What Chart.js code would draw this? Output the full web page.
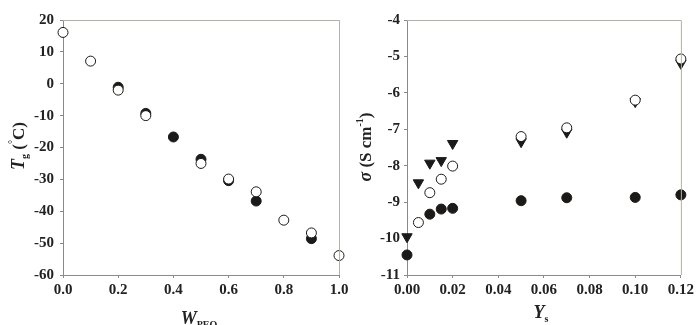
<!DOCTYPE html>
<html>
<head>
<meta charset="utf-8">
<script src="https://cdn.jsdelivr.net/npm/chart.js@4.4.1/dist/chart.umd.min.js"></script>
<style>
    body { margin: 0; background: #fff; }
    #wrap { position: relative; width: 697px; height: 325px; }
    canvas { position: absolute; left: 0; top: 0; }
</style>
</head>
<body>
<div id="wrap">
    <canvas id="graficoTg" width="697" height="325"></canvas>
    <canvas id="graficoSigma" width="697" height="325"></canvas>
</div>
<script>
// Tg contra fração de PEO
const wPeoAbertos = [0.0, 0.1, 0.2, 0.3, 0.5, 0.6, 0.7, 0.8, 0.9, 1.0];
const tgAbertos = [16.1, 7.1, -2.0, -10.0, -25.0, -29.9, -33.9, -42.8, -46.8, -53.9];
const wPeoCheios = [0.2, 0.3, 0.4, 0.5, 0.6, 0.7, 0.9];
const tgCheios = [-1.1, -9.3, -16.7, -23.7, -30.4, -36.8, -48.6];

// condutividade (log) contra Ys
const ysTriangulos = [0.000, 0.005, 0.010, 0.015, 0.020, 0.05, 0.07, 0.10, 0.12];
const sigmaTriangulos = [-9.95, -8.47, -7.93, -7.86, -7.39, -7.34, -7.08, -6.24, -5.19];
const ysAbertos = [0.005, 0.010, 0.015, 0.020, 0.05, 0.07, 0.10, 0.12];
const sigmaAbertos = [-9.56, -8.74, -8.37, -8.01, -7.20, -6.96, -6.20, -5.07];
const ysCheios = [0.000, 0.010, 0.015, 0.020, 0.05, 0.07, 0.10, 0.12];
const sigmaCheios = [-10.45, -9.33, -9.19, -9.17, -8.96, -8.88, -8.87, -8.80];

// ticks
const ticksW = [0.0, 0.2, 0.4, 0.6, 0.8, 1.0];
const ticksTg = [20, 10, 0, -10, -20, -30, -40, -50, -60];
const ticksYs = [0.00, 0.02, 0.04, 0.06, 0.08, 0.10, 0.12];
const ticksSigma = [-4, -5, -6, -7, -8, -9, -10, -11];

const SERIF = '"Liberation Serif", "Times New Roman", serif';
const PRETO = '#1c1a18';

function pontos(xs, ys) {
    return xs.map((x, i) => ({ x: x, y: ys[i] }));
}

// desenha texto com sub/sobrescritos, centrado em (cx, cy); rot em radianos
function textoRico(ctx, partes, cx, cy, rot) {
    ctx.save();
    ctx.translate(cx, cy);
    ctx.rotate(rot);
    ctx.textBaseline = 'alphabetic';
    ctx.textAlign = 'left';
    ctx.fillStyle = '#222';
    let total = 0;
    partes.forEach(p => { ctx.font = p.font; total += ctx.measureText(p.t).width; });
    let x = -total / 2;
    partes.forEach(p => {
        ctx.font = p.font;
        ctx.fillText(p.t, x, p.dy || 0);
        x += ctx.measureText(p.t).width;
    });
    ctx.restore();
}

// moldura superior e direita + títulos dos eixos
function pluginMoldura(titulos) {
    return {
        id: 'moldura',
        afterDraw(chart) {
            const { ctx, chartArea: a } = chart;
            ctx.save();
            ctx.strokeStyle = '#b4b0a8';
            ctx.lineWidth = 1;
            ctx.beginPath();
            ctx.moveTo(a.left, a.top + 0.5);
            ctx.lineTo(a.right + 0.5, a.top + 0.5);
            ctx.lineTo(a.right + 0.5, a.bottom);
            ctx.stroke();
            ctx.restore();
            titulos.forEach(t => textoRico(ctx, t.partes, t.x, t.y, t.rot || 0));
        }
    };
}

function escalaLinear(min, max, lista, casas, larguraFixa, alturaFixa, pad) {
    return {
        type: 'linear',
        min: min,
        max: max,
        afterBuildTicks: s => { s.ticks = lista.map(v => ({ value: v })); },
        ticks: {
            callback: v => v.toFixed(casas),
            font: { family: SERIF, size: 15, weight: 'bold' },
            color: '#222',
            padding: pad,
            maxRotation: 0,
            autoSkip: false
        },
        grid: { drawOnChartArea: false, tickLength: 3, color: '#8a8a8a' },
        border: { color: '#8a8a8a', width: 1 },
        afterFit: s => {
            if (larguraFixa) s.width = larguraFixa;
            if (alturaFixa) s.height = alturaFixa;
        }
    };
}

function conjunto(dados, estilo) {
    return Object.assign({
        data: dados,
        clip: false,
        pointRadius: 5,
        pointHoverRadius: 5,
        borderWidth: 1,
        borderColor: PRETO,
        showLine: false
    }, estilo);
}

const big = 'bold 17px ' + SERIF;
const bigItalic = 'italic bold 18px ' + SERIF;
const small = 'bold 10px ' + SERIF;

new Chart(document.getElementById('graficoTg').getContext('2d'), {
    type: 'scatter',
    data: {
        datasets: [
            conjunto(pontos(wPeoAbertos, tgAbertos), { pointBackgroundColor: '#fff', pointBorderColor: PRETO }),
            conjunto(pontos(wPeoCheios, tgCheios), { pointBackgroundColor: PRETO, pointBorderColor: PRETO })
        ]
    },
    options: {
        responsive: false,
        animation: false,
        layout: { padding: { left: 0, top: 20, right: 358, bottom: 0 } },
        plugins: { legend: { display: false }, tooltip: { enabled: false } },
        scales: {
            x: escalaLinear(0, 1, ticksW, 1, null, 50, 3),
            y: escalaLinear(-60, 20, ticksTg, 0, 63, null, 6)
        }
    },
    plugins: [pluginMoldura([
        { x: 199, y: 324, partes: [{ t: 'W', font: bigItalic }, { t: 'PEO', font: small, dy: 4 }] },
        { x: 24, y: 146, rot: -Math.PI / 2, partes: [
            { t: 'T', font: bigItalic }, { t: 'g', font: small, dy: 4 },
            { t: ' (', font: big }, { t: '°', font: small, dy: -8 }, { t: 'C)', font: big }] }
    ])]
});

new Chart(document.getElementById('graficoSigma').getContext('2d'), {
    type: 'scatter',
    data: {
        datasets: [
            conjunto(pontos(ysAbertos, sigmaAbertos), { pointBackgroundColor: '#fff', pointBorderColor: PRETO }),
            conjunto(pontos(ysTriangulos, sigmaTriangulos), {
                pointStyle: 'triangle', pointRotation: 180, pointRadius: 6, pointHoverRadius: 6,
                pointBackgroundColor: PRETO, pointBorderColor: PRETO
            }),
            conjunto(pontos(ysCheios, sigmaCheios), { pointBackgroundColor: PRETO, pointBorderColor: PRETO })
        ]
    },
    options: {
        responsive: false,
        animation: false,
        layout: { padding: { left: 0, top: 20, right: 14, bottom: 0 } },
        plugins: { legend: { display: false }, tooltip: { enabled: false } },
        scales: {
            x: escalaLinear(0, 0.12, ticksYs, 2, null, 50, 3),
            y: escalaLinear(-11, -4, ticksSigma, 0, 407, null, 4)
        }
    },
    plugins: [pluginMoldura([
        { x: 541, y: 318, partes: [{ t: 'Y', font: bigItalic }, { t: 's', font: small, dy: 4 }] },
        { x: 371, y: 147, rot: -Math.PI / 2, partes: [
            { t: 'σ', font: bigItalic }, { t: ' (S cm', font: big },
            { t: '-1', font: small, dy: -8 }, { t: ')', font: big }] }
    ])]
});
</script>
</body>
</html>
